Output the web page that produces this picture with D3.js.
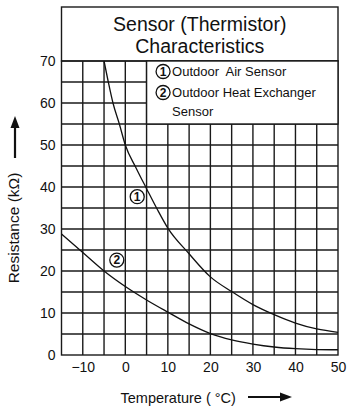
<!DOCTYPE html>
<html>
<head>
<meta charset="utf-8">
<script src="https://cdn.jsdelivr.net/npm/d3@7"></script>
<style>
  html, body { margin: 0; padding: 0; background: #fff; }
  svg { display: block; }
  text { font-family: "Liberation Sans", Arial, Helvetica, sans-serif; fill: #111; }
</style>
</head>
<body>
<svg id="chart" width="350" height="417"></svg>
<script>
// ---- Data ----
const titleLines = ["Sensor (Thermistor)", "Characteristics"];
const xTicks = [-10, 0, 10, 20, 30, 40, 50];
const yTicks = [0, 10, 20, 30, 40, 50, 60, 70];
const xGrid = [-10, -5, 0, 5, 10, 15, 20, 25, 30, 35, 40, 45];
const yGrid = [5, 10, 15, 20, 25, 30, 35, 40, 45, 50, 55, 60, 65];

// (1) Outdoor Air Sensor
const tempsAir = [-5, -4, -2.9, -1.4, 0, 2.5, 5, 7.5, 10, 15, 20, 25, 30, 35, 40, 45, 50];
const resAir   = [70, 65, 60, 55, 50, 44.6, 39.6, 34.7, 30.2, 24.1, 18.6, 15.1, 12.0, 9.6, 7.6, 6.2, 5.4];
// (2) Outdoor Heat Exchanger Sensor
const tempsHex = [-15, -10, -5, 0, 5, 10, 15, 20, 25, 30, 35, 40, 45, 50];
const resHex   = [28.8, 24.4, 20.0, 16.3, 13.1, 10.2, 7.4, 5.1, 3.6, 2.6, 1.9, 1.5, 1.3, 1.25];

const seriesNames = ["Outdoor  Air Sensor", "Outdoor Heat Exchanger", "Sensor"];
const markerLabels = ["1", "2"];
const markerTemps = [2.8, -2.0];
const markerRes = [37.7, 22.6];

const xLabel = "Temperature ( °C)";
const yLabel = "Resistance (kΩ)";

(function () {
// ---- Layout ----
const svg = d3.select("#chart");
const pLeft = 61.5, pRight = 338, pTop = 61, pBottom = 355, boxTop = 7;
const x = d3.scaleLinear().domain([-15, 50]).range([pLeft, pRight]);
const y = d3.scaleLinear().domain([0, 70]).range([pBottom, pTop]);
const gridColor = "#1a1a1a";

// grid
svg.append("g").selectAll("line").data(xGrid).join("line")
  .attr("x1", d => x(d)).attr("x2", d => x(d))
  .attr("y1", y(0)).attr("y2", y(70))
  .attr("stroke", gridColor).attr("stroke-width", 1.4);
svg.append("g").selectAll("line").data(yGrid).join("line")
  .attr("x1", pLeft).attr("x2", pRight)
  .attr("y1", d => y(d)).attr("y2", d => y(d))
  .attr("stroke", gridColor).attr("stroke-width", 1.4);

// outer frame incl. title box
svg.append("rect").attr("x", pLeft).attr("y", boxTop)
  .attr("width", pRight - pLeft).attr("height", y(70) - boxTop)
  .attr("fill", "#fff").attr("stroke", gridColor).attr("stroke-width", 1.4);
svg.append("rect").attr("x", pLeft).attr("y", y(70))
  .attr("width", pRight - pLeft).attr("height", y(0) - y(70))
  .attr("fill", "none").attr("stroke", gridColor).attr("stroke-width", 1.4);

// title
svg.append("g").selectAll("text").data(titleLines).join("text")
  .attr("x", (pLeft + pRight) / 2).attr("y", (d, i) => 31 + i * 22)
  .attr("text-anchor", "middle").attr("font-size", 19.5).text(d => d);

// legend box
svg.append("rect").attr("x", x(5)).attr("y", y(70))
  .attr("width", x(50) - x(5)).attr("height", y(55) - y(70))
  .attr("fill", "#fff").attr("stroke", gridColor).attr("stroke-width", 1.4);

const legY = [76, 97, 115.5];
svg.append("g").selectAll("text").data(seriesNames).join("text")
  .attr("x", x(5) + 25.5).attr("y", (d, i) => legY[i])
  .attr("font-size", 13).style("white-space", "pre").text(d => d);
const legMarks = svg.append("g").selectAll("g").data(markerLabels).join("g")
  .attr("transform", (d, i) => `translate(${x(5) + 16.5},${legY[i] - 4.5})`);
legMarks.append("circle").attr("r", 7).attr("fill", "#fff").attr("stroke", "#111").attr("stroke-width", 1.3);
legMarks.append("text").attr("text-anchor", "middle").attr("y", 4.3)
  .attr("font-size", 12).attr("font-weight", "bold").text(d => d);

// curves
const line = d3.line().x(d => x(d[0])).y(d => y(d[1])).curve(d3.curveMonotoneX);
svg.append("path").datum(tempsAir.map((t, i) => [t, resAir[i]]))
  .attr("d", line).attr("fill", "none").attr("stroke", "#111").attr("stroke-width", 1.3);
svg.append("path").datum(tempsHex.map((t, i) => [t, resHex[i]]))
  .attr("d", line).attr("fill", "none").attr("stroke", "#111").attr("stroke-width", 1.3);

// curve markers
const marks = svg.append("g").selectAll("g").data(markerLabels).join("g")
  .attr("transform", (d, i) => `translate(${x(markerTemps[i])},${y(markerRes[i])})`);
marks.append("circle").attr("r", 7).attr("fill", "#fff").attr("stroke", "#111").attr("stroke-width", 1.3);
marks.append("text").attr("text-anchor", "middle").attr("y", 4.3)
  .attr("font-size", 12).attr("font-weight", "bold").text(d => d);

// axes
const yAxis = svg.append("g").attr("transform", `translate(${pLeft},0)`)
  .call(d3.axisLeft(y).tickValues(yTicks).tickSize(0).tickPadding(6).tickFormat(d3.format("d")));
yAxis.select(".domain").remove();
yAxis.selectAll("text").attr("font-size", 14).attr("font-family", "Liberation Sans, Arial, sans-serif").attr("fill", "#111");

const xAxis = svg.append("g").attr("transform", `translate(0,${pBottom})`)
  .call(d3.axisBottom(x).tickValues(xTicks).tickSize(0).tickPadding(7).tickFormat(d3.format("d")));
xAxis.select(".domain").remove();
xAxis.selectAll("text").attr("font-size", 14).attr("font-family", "Liberation Sans, Arial, sans-serif").attr("fill", "#111");

// axis titles
svg.append("text").attr("x", 120.5).attr("y", 403).attr("font-size", 14.5).text(xLabel);
svg.append("text").attr("transform", "translate(19,228) rotate(-90)")
  .attr("text-anchor", "middle").attr("font-size", 15.5).text(yLabel);

// arrows
svg.append("line").attr("x1", 248).attr("x2", 282).attr("y1", 397).attr("y2", 397)
  .attr("stroke", "#111").attr("stroke-width", 2.2);
svg.append("path").attr("d", "M280,392.5 L292,397 L280,401.5 Z").attr("fill", "#111");
svg.append("line").attr("x1", 15).attr("x2", 15).attr("y1", 158).attr("y2", 126)
  .attr("stroke", "#111").attr("stroke-width", 2.2);
svg.append("path").attr("d", "M10.5,128 L15,116 L19.5,128 Z").attr("fill", "#111");
})();
</script>
</body>
</html>
